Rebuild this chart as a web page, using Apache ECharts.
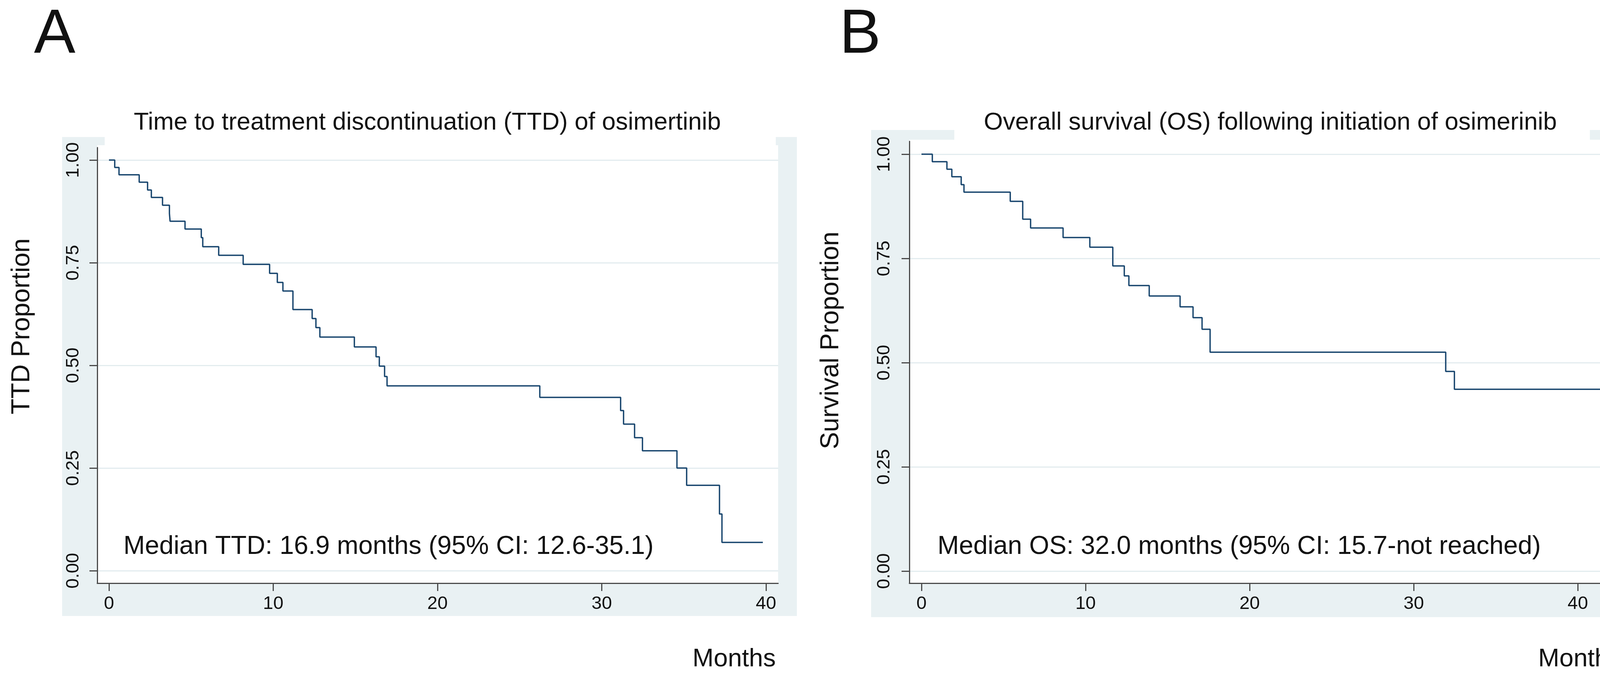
<!DOCTYPE html>
<html>
<head>
<meta charset="utf-8">
<script src="https://cdn.jsdelivr.net/npm/echarts@6/dist/echarts.min.js"></script>
<style>
html,body{margin:0;padding:0;background:#ffffff;}
#c{width:4222px;height:1742px;}
</style>
</head>
<body>
<div id="c"></div>
<script>
// ---- Data ----
const ttdTimes = [0, 0.35, 0.61, 1.84, 2.35, 2.58, 3.26, 3.68, 3.72, 4.63, 5.62, 5.71, 6.68, 8.17, 9.78, 10.25, 10.59, 11.20, 12.37, 12.60, 12.84, 14.94, 16.26, 16.46, 16.78, 16.93, 26.23, 31.15, 31.33, 32.00, 32.48, 34.58, 35.17, 37.17, 37.32, 39.81];
const ttdProps = [1.000, 0.982, 0.964, 0.946, 0.927, 0.909, 0.890, 0.870, 0.851, 0.832, 0.811, 0.789, 0.768, 0.746, 0.724, 0.702, 0.681, 0.636, 0.614, 0.592, 0.569, 0.545, 0.521, 0.498, 0.473, 0.450, 0.422, 0.390, 0.357, 0.324, 0.292, 0.250, 0.208, 0.138, 0.069, 0.069];

const osTimes = [0, 0.66, 1.55, 1.85, 2.42, 2.59, 5.41, 6.17, 6.65, 8.63, 10.26, 11.66, 12.36, 12.64, 13.88, 15.76, 16.55, 17.10, 17.59, 31.95, 32.48, 41.96];
const osProps = [1.000, 0.982, 0.964, 0.946, 0.927, 0.909, 0.887, 0.844, 0.823, 0.800, 0.777, 0.732, 0.708, 0.685, 0.660, 0.634, 0.608, 0.580, 0.525, 0.479, 0.436, 0.436];

const yTickValues = [0, 0.25, 0.5, 0.75, 1];
const xTickValues = [0, 10, 20, 30, 40];

const panelLetters = ['A', 'B'];
const panelTitles = ['Time to treatment discontinuation (TTD) of osimertinib', 'Overall survival (OS) following initiation of osimerinib'];
const yTitles = ['TTD Proportion', 'Survival Proportion'];
const xTitle = 'Months';
const notes = ['Median TTD: 16.9 months (95% CI: 12.6-35.1)', 'Median OS: 32.0 months (95% CI: 15.7-not reached)'];

// ---- Build ----
const FONT = "'Liberation Sans', Arial, Helvetica, sans-serif";
const NARROW = "'Liberation Sans Narrow', 'Arial Narrow', 'Liberation Sans', Arial, sans-serif";
const LINE = '#1A476F';
const AXIS = '#4a4a4a';
const REGION = '#E9F1F3';
const GRIDC = '#E3ECEF';

function pairs(xs, ys) { return xs.map((x, i) => [x, ys[i]]); }

function xAxisCfg(idx, min, max) {
  return {
    type: 'value', gridIndex: idx, min: min, max: max, position: 'bottom',
    axisLine: { show: true, onZero: false, lineStyle: { color: AXIS, width: 3 } },
    axisTick: { show: true, length: 20, customValues: xTickValues, lineStyle: { color: AXIS, width: 3 } },
    axisLabel: { customValues: xTickValues, fontSize: 47, fontFamily: FONT, color: '#111', margin: 53, verticalAlign: 'middle', align: 'center' },
    splitLine: { show: false }
  };
}
function yAxisCfg(idx, min, max, margin) {
  return {
    type: 'value', gridIndex: idx, min: min, max: max, position: 'left',
    axisLine: { show: true, onZero: false, lineStyle: { color: AXIS, width: 3 } },
    axisTick: { show: true, length: 20, customValues: yTickValues, lineStyle: { color: AXIS, width: 3 } },
    axisLabel: { customValues: yTickValues, formatter: v => Number(v).toFixed(2), rotate: 90, align: 'center', verticalAlign: 'middle', margin: margin, fontSize: 47, fontFamily: FONT, color: '#111' },
    splitLine: { show: true, lineStyle: { color: GRIDC, width: 3 } }
  };
}

function txt(text, x, y, size, align, opts) {
  opts = opts || {};
  return {
    type: 'text', x: x, y: y, z: 100, rotation: opts.rotation || 0,
    style: {
      text: text, fontSize: size, fontFamily: opts.family || FONT, fill: '#111',
      align: align, verticalAlign: 'middle', textAlign: align, textVerticalAlign: 'middle'
    }
  };
}
function rect(x, y, w, h, fill, z) {
  return { type: 'rect', z: z, shape: { x: x, y: y, width: w, height: h }, style: { fill: fill } };
}

const option = {
  backgroundColor: '#ffffff',
  animation: false,
  grid: [
    { left: 249, top: 378, width: 1743, height: 1116, containLabel: false },
    { left: 2328, top: 362, width: 1825, height: 1132, containLabel: false }
  ],
  xAxis: [ xAxisCfg(0, -0.713, 40.74), xAxisCfg(1, -0.738, 42.71) ],
  yAxis: [ yAxisCfg(0, -0.0304, 1.0304, 61), yAxisCfg(1, -0.029, 1.0309, 64) ],
  series: [
    { type: 'line', xAxisIndex: 0, yAxisIndex: 0, data: pairs(ttdTimes, ttdProps), step: 'end', symbol: 'none', z: 5,
      lineStyle: { color: LINE, width: 3.5 }, silent: true },
    { type: 'line', xAxisIndex: 1, yAxisIndex: 1, data: pairs(osTimes, osProps), step: 'end', symbol: 'none', z: 5,
      lineStyle: { color: LINE, width: 3.5 }, silent: true }
  ],
  graphic: {
    elements: [
      // panel A regions
      rect(159, 351, 1881, 1227, REGION, -100),
      rect(249, 372, 1743, 1122, '#ffffff', -99),
      rect(268, 351, 1718, 21, '#ffffff', -99),
      // panel B regions
      rect(2230, 333, 1962, 1248, REGION, -100),
      rect(2328, 358, 1825, 1136, '#ffffff', -99),
      rect(2443, 333, 1627, 25, '#ffffff', -99),
      // texts
      txt(panelLetters[0], 87, 91, 159, 'left', { family: NARROW }),
      txt(panelLetters[1], 2149, 91, 159, 'left', { family: NARROW }),
      txt(panelTitles[0], 1094, 315, 63, 'center'),
      txt(panelTitles[1], 3252, 315, 63, 'center'),
      txt(yTitles[0], 57, 836, 66, 'center', { rotation: Math.PI / 2 }),
      txt(yTitles[1], 2128, 872, 66, 'center', { rotation: Math.PI / 2 }),
      txt(notes[0], 316, 1401, 66, 'left'),
      txt(notes[1], 2400, 1401, 66, 'left'),
      txt(xTitle, 1986, 1689, 65, 'right'),
      txt(xTitle, 4151, 1689, 65, 'right')
    ]
  }
};

const chart = echarts.init(document.getElementById('c'), null, { renderer: 'canvas', width: 4222, height: 1742 });
chart.setOption(option);
</script>
</body>
</html>
